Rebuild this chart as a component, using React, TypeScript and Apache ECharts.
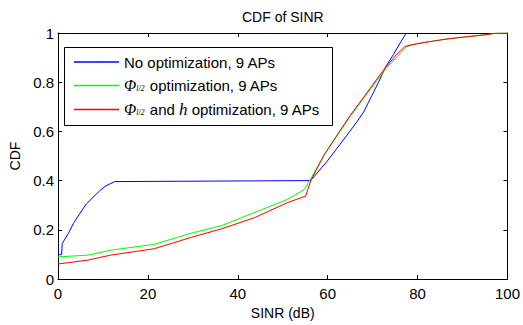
import React, { useEffect, useRef } from "react";
import * as echarts from "echarts";

const xTicks = [0, 20, 40, 60, 80, 100];
const yTicks = [0, 0.2, 0.4, 0.6, 0.8, 1];

const seriesNames = ["No optimization, 9 APs", "Φl/2 optimization, 9 APs", "Φl/2 and h optimization, 9 APs"];

const noOptX = [0, 0.8, 0.95, 2.3, 3.4, 4.8, 6.3, 7.8, 9.3, 10.7, 12.6, 56.2, 59.9, 62.1, 64.3, 66.5, 68.0, 69.8, 71.3, 72.8, 74.6, 76.1, 77.5];
const noOptY = [0.099, 0.099, 0.145, 0.185, 0.225, 0.265, 0.305, 0.332, 0.359, 0.379, 0.396, 0.4, 0.479, 0.532, 0.585, 0.639, 0.679, 0.745, 0.799, 0.859, 0.912, 0.959, 1.0];

const phiX = [0, 6.7, 11.7, 21.4, 29.4, 36.4, 43.8, 51.1, 54.8, 55.9, 59.2, 62.1, 65.0, 68.0, 70.9, 73.1, 75.5, 77.6, 79.7, 82.7, 86.3, 90.0, 94.8, 97.4, 100];
const phiY = [0.09, 0.097, 0.117, 0.141, 0.185, 0.217, 0.271, 0.324, 0.364, 0.398, 0.503, 0.583, 0.66, 0.735, 0.805, 0.86, 0.905, 0.945, 0.956, 0.965, 0.975, 0.983, 0.992, 0.999, 1.0];

const phiHX = [0, 6.7, 11.7, 21.4, 29.4, 36.4, 43.8, 51.1, 55.1, 56.2, 59.2, 62.1, 65.0, 68.0, 70.9, 73.1, 75.3, 77.2, 78.6, 82.7, 86.3, 90.0, 94.8, 97.4, 100];
const phiHY = [0.061, 0.077, 0.097, 0.123, 0.168, 0.204, 0.25, 0.311, 0.337, 0.398, 0.505, 0.585, 0.665, 0.739, 0.812, 0.865, 0.912, 0.945, 0.952, 0.965, 0.975, 0.983, 0.992, 0.999, 1.0];

const colors = ["#0000ff", "#00ff00", "#ff0000"];

const FONT = "'Liberation Sans', Arial, sans-serif";
const SERIF = "'Liberation Serif', 'Times New Roman', serif";

function zip(xs: number[], ys: number[]) {
  return xs.map((x, i) => [x, ys[i]]);
}

export default function App() {
  const ref = useRef<HTMLDivElement>(null);
  useEffect(() => {
    if (!ref.current) return;
    const chart = echarts.init(ref.current, undefined, { renderer: "svg" });
    const legendText: Record<string, string> = {
      [seriesNames[0]]: "{t|No optimization, 9 APs}",
      [seriesNames[1]]: "{phi|Φ}{sub|l/2}{t| optimization, 9 APs}",
      [seriesNames[2]]: "{phi|Φ}{sub|l/2}{t| and }{h|h}{t| optimization, 9 APs}",
    };
    const axisCommon = {
      type: "value" as const,
      axisLine: { show: true, onZero: false, lineStyle: { color: "#000", width: 1 } },
      axisTick: { show: true, inside: true, length: 4, lineStyle: { color: "#000" } },
      splitLine: { show: false },
    };
    const dataSets = [zip(noOptX, noOptY), zip(phiX, phiY), zip(phiHX, phiHY)];
    chart.setOption({
      animation: false,
      backgroundColor: "#fff",
      title: {
        text: "CDF of SINR",
        left: 242,
        top: 10,
        padding: 0,
        textStyle: { fontFamily: FONT, fontSize: 14, fontWeight: "normal", color: "#000" },
      },
      grid: { left: 58, right: 11, top: 33, bottom: 42.5, containLabel: false },
      xAxis: [
        {
          ...axisCommon,
          min: 0,
          max: 100,
          interval: 20,
          position: "bottom",
          name: "SINR (dB)",
          nameLocation: "middle",
          nameGap: 27,
          nameTextStyle: { fontFamily: FONT, fontSize: 14, color: "#000" },
          axisLabel: {
            margin: 7,
            fontFamily: FONT,
            fontSize: 15,
            color: "#000",
            showMaxLabel: true,
            formatter: (v: number) => {
              const t = xTicks.find((x) => Math.abs(x - v) < 1e-9);
              return t === undefined ? "" : String(t);
            },
          },
        },
        {
          ...axisCommon,
          min: 0,
          max: 100,
          interval: 20,
          position: "top",
          axisLabel: { show: false },
        },
      ],
      yAxis: [
        {
          ...axisCommon,
          min: 0,
          max: 1,
          interval: 0.2,
          position: "left",
          name: "CDF",
          nameLocation: "middle",
          nameGap: 36,
          nameTextStyle: { fontFamily: FONT, fontSize: 14, color: "#000" },
          axisLabel: {
            margin: 4,
            fontFamily: FONT,
            fontSize: 15,
            color: "#000",
            formatter: (v: number) => {
              const t = yTicks.find((y) => Math.abs(y - v) < 1e-9);
              return t === undefined ? "" : String(t);
            },
          },
        },
        {
          ...axisCommon,
          min: 0,
          max: 1,
          interval: 0.2,
          position: "right",
          axisLabel: { show: false },
        },
      ],
      graphic: [
        {
          type: "rect",
          z: 0,
          shape: { x: 64.5, y: 47.5, width: 268, height: 78 },
          style: { fill: "#fff", stroke: "#000", lineWidth: 1 },
        },
      ],
      legend: {
        orient: "vertical",
        left: 74,
        top: 54,
        padding: 0,
        z: 10,
        itemGap: 7.5,
        itemWidth: 45,
        itemHeight: 1.5,
        icon: "rect",
        data: seriesNames.map((name, i) => ({ name, itemStyle: { color: colors[i] } })),
        formatter: (name: string) => legendText[name] ?? name,
        textStyle: {
          fontFamily: FONT,
          fontSize: 15,
          color: "#000",
          lineHeight: 16,
          rich: {
            t: { fontFamily: FONT, fontSize: 15, color: "#000", lineHeight: 16 },
            phi: { fontFamily: SERIF, fontStyle: "italic", fontSize: 16, color: "#000", lineHeight: 16 },
            sub: { fontFamily: SERIF, fontStyle: "italic", fontSize: 8, color: "#000", lineHeight: 16, padding: [6, 1, 0, 0] },
            h: { fontFamily: SERIF, fontStyle: "italic", fontSize: 17, color: "#000", lineHeight: 16 },
          },
        },
      },
      series: seriesNames.map((name, i) => ({
        name,
        type: "line",
        xAxisIndex: 0,
        yAxisIndex: 0,
        symbol: "none",
        data: dataSets[i],
        lineStyle: { color: colors[i], width: 1 },
        itemStyle: { color: colors[i] },
        z: 3 + i,
      })),
    });
    return () => chart.dispose();
  }, []);
  return (
    <div
      ref={ref}
      style={{ position: "fixed", left: 0, top: 0, width: 523, height: 325, background: "#fff" }}
    />
  );
}
